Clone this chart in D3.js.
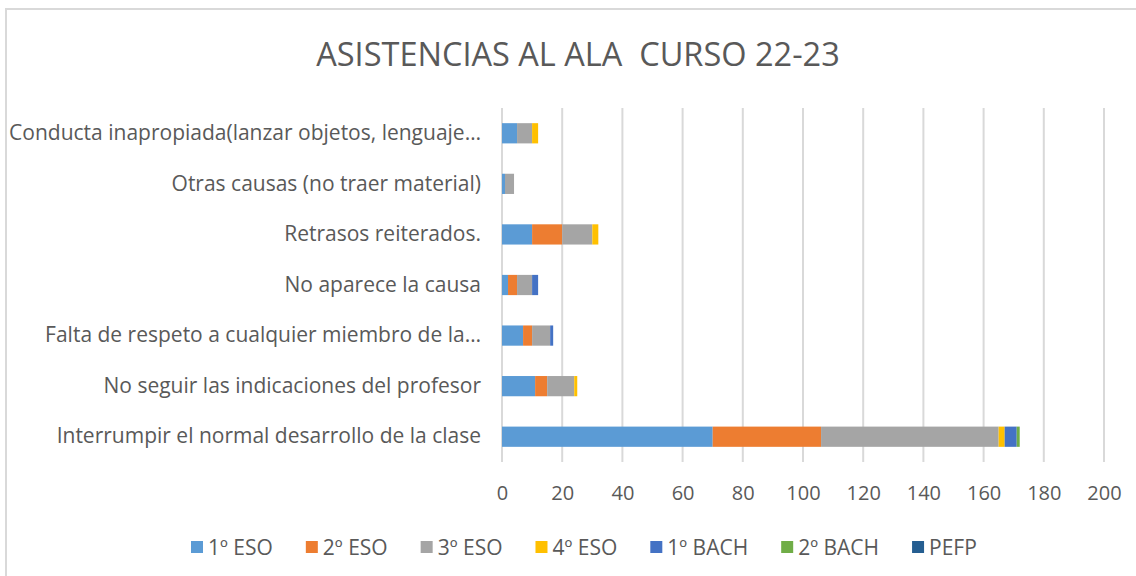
<!DOCTYPE html>
<html>
<head>
<meta charset="utf-8">
<script src="https://cdn.jsdelivr.net/npm/d3@7"></script>
<style>
  body { margin: 0; background: #fff; }
  text { font-family: "Open Sans", Lato, sans-serif; fill: #595959; }
</style>
</head>
<body>
<div id="chart"></div>
<script>
(function () {
  // categories, top to bottom as shown
  const categories = [
    "Conducta inapropiada(lanzar objetos, lenguaje…",
    "Otras causas (no traer material)",
    "Retrasos reiterados.",
    "No aparece la causa",
    "Falta de respeto a cualquier miembro de la…",
    "No seguir las indicaciones del profesor",
    "Interrumpir el normal desarrollo de la clase"
  ];
  const seriesNames = ["1º ESO", "2º ESO", "3º ESO", "4º ESO", "1º BACH", "2º BACH", "PEFP"];
  const seriesColors = ["#5b9bd5", "#ed7d31", "#a5a5a5", "#ffc000", "#4472c4", "#70ad47", "#255e91"];

  // values per series, same order as categories
  const eso1 = [5, 1, 10, 2, 7, 11, 70];
  const eso2 = [0, 0, 10, 3, 3, 4, 36];
  const eso3 = [5, 3, 10, 5, 6, 9, 59];
  const eso4 = [2, 0, 2, 0, 0, 1, 2];
  const bach1 = [0, 0, 0, 2, 1, 0, 4];
  const bach2 = [0, 0, 0, 0, 0, 0, 1];
  const pefp = [0, 0, 0, 0, 0, 0, 0];
  const xTicks = [0, 20, 40, 60, 80, 100, 120, 140, 160, 180, 200];

  const allSeries = [eso1, eso2, eso3, eso4, bach1, bach2, pefp];
  const table = categories.map((c, i) => {
    let row = { cat: c };
    seriesNames.forEach((s, j) => { row[s] = allSeries[j][i]; });
    return row;
  });

  const W = 1136, H = 576;
  const svg = d3.select("#chart").append("svg")
    .attr("width", W)
    .attr("height", H);

  // chart border
  svg.append("rect")
    .attr("x", 6).attr("y", 9)
    .attr("width", W).attr("height", H)
    .attr("fill", "none")
    .attr("stroke", "#d9d9d9")
    .attr("stroke-width", 2);

  svg.append("text")
    .attr("x", 578).attr("y", 66)
    .attr("text-anchor", "middle")
    .attr("font-size", 32.5)
    .style("white-space", "pre")
    .text("ASISTENCIAS AL ALA  CURSO 22-23");

  const x = d3.scaleLinear().domain([0, 200]).range([502, 1104]);
  const y = d3.scaleBand().domain(categories).range([108, 462])
    .paddingInner(0.6).paddingOuter(0.3);

  // gridlines
  svg.append("g")
    .selectAll("line")
    .data(xTicks)
    .join("line")
    .attr("x1", d => x(d)).attr("x2", d => x(d))
    .attr("y1", 108).attr("y2", 462)
    .attr("stroke", "#d9d9d9")
    .attr("stroke-width", 2);

  // bars
  const stacked = d3.stack().keys(seriesNames)(table);
  svg.append("g")
    .selectAll("g")
    .data(stacked)
    .join("g")
    .attr("fill", (d, i) => seriesColors[i])
    .selectAll("rect")
    .data(d => d.filter(p => p[1] > p[0]))
    .join("rect")
    .attr("x", d => x(d[0]))
    .attr("width", d => x(d[1]) - x(d[0]))
    .attr("y", d => y(d.data.cat))
    .attr("height", y.bandwidth());

  const font = "'Open Sans', Lato, sans-serif";

  // x axis labels
  const xAxis = svg.append("g")
    .attr("transform", "translate(0,462)")
    .call(d3.axisBottom(x).tickValues(xTicks).tickSize(0).tickPadding(24));
  xAxis.select(".domain").remove();
  xAxis.selectAll("text").attr("font-size", 20).attr("fill", "#595959")
    .style("font-family", font);

  // category labels
  const yAxis = svg.append("g")
    .attr("transform", "translate(502,0)")
    .call(d3.axisLeft(y).tickSize(0).tickPadding(21));
  yAxis.select(".domain").remove();
  yAxis.selectAll("text").attr("font-size", 21).attr("fill", "#595959")
    .style("font-family", font);

  // legend
  const legend = svg.append("g").attr("transform", "translate(191,547)");
  let lx = 0;
  seriesNames.forEach((s, i) => {
    const item = legend.append("g").attr("transform", "translate(" + lx + ",0)");
    item.append("rect")
      .attr("x", 0).attr("y", -6)
      .attr("width", 12).attr("height", 12)
      .attr("fill", seriesColors[i]);
    const t = item.append("text")
      .attr("x", 17).attr("y", 7.5)
      .attr("font-size", 21)
      .text(s);
    lx += 17 + t.node().getComputedTextLength() + 33;
  });
})();
</script>
</body>
</html>
